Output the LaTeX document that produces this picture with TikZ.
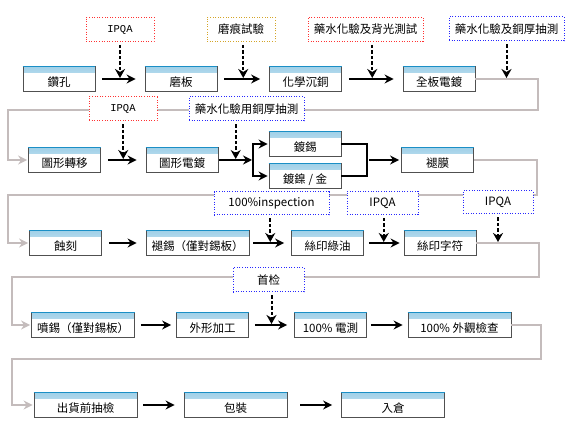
\documentclass[tikz,border=0pt]{standalone}
\usepackage{fontspec}
\setmainfont{Noto Sans CJK TC}
\newfontfamily\monofont{Liberation Mono}
\usetikzlibrary{arrows.meta}
\definecolor{stripblue}{RGB}{160,208,232}
\definecolor{stripedge}{RGB}{27,143,198}
\definecolor{boxgray}{RGB}{80,80,80}
\definecolor{linegray}{RGB}{196,188,188}
\definecolor{qared}{RGB}{255,50,50}
\definecolor{qagold}{RGB}{212,165,40}
\definecolor{qablue}{RGB}{40,40,255}

\begin{document}
\begin{tikzpicture}[x=1pt,y=-1pt,
	stage/.style={draw=boxgray, line width=0.8pt, fill=white, minimum width=72pt, minimum height=25pt,
		inner sep=0pt, font=\fontsize{11.5}{12}\selectfont, text height=15pt, text depth=0.3pt,
		path picture={\fill[top color=stripblue, bottom color=stripblue!35]
			(path picture bounding box.north west) rectangle ([yshift=-6pt]path picture bounding box.north east);}},
	wide/.style={stage, minimum width=103pt},
	check/.style={draw=#1, dash pattern=on 1pt off 1.6pt, line width=1pt, fill=white,
		minimum height=24pt, inner sep=0pt, font=\fontsize{11.5}{12}\selectfont},
	flow/.style={-{Stealth[length=9pt,width=9pt]}, line width=2pt, shorten <=7pt, shorten >=9pt},
	qaflow/.style={-{Stealth[length=9pt,width=10pt]}, line width=2pt, dash pattern=on 3.5pt off 2pt,
		shorten <=3pt, shorten >=1pt},
	back/.style={draw=linegray, line width=1.4pt, -{Stealth[length=9pt,width=9pt]}, shorten >=1pt}]
	\useasboundingbox (0,0) rectangle (570,435);

	% Row 1
	\node[stage] (drill) at (59,79) {鑽孔};
	\node[stage] (grind) at (181,79) {磨板};
	\node[stage] (pth) at (305.5,79) {化學沉銅};
	\node[stage] (panel) at (439,79) {全板電鍍};

	% Row 2
	\node[stage] (xfer) at (64.5,160) {圖形轉移};
	\node[stage] (pplate) at (182,160) {圖形電鍍};
	\node[stage] (tin) at (305,144) {鍍錫};
	\node[stage] (nigold) at (305,176) {鍍鎳 / 金};
	\node[stage] (strip) at (437.5,160) {褪膜};
	\coordinate (split) at (253,160);
	\coordinate (join) at (367,160);

	% Row 3
	\node[stage] (etch) at (65.5,243) {蝕刻};
	\node[wide] (detin) at (197.5,243) {褪錫（僅對錫板）};
	\node[stage] (mask) at (327.5,243) {絲印綠油};
	\node[stage] (legend) at (440,243) {絲印字符};

	% Row 4
	\node[wide] (spray) at (83,325) {噴錫（僅對錫板）};
	\node[stage] (route) at (212.5,325) {外形加工};
	\node[stage] (et) at (330.5,325) {100\% 電測};
	\node[wide] (fqc) at (459.5,325) {100\% 外觀檢查};

	% Row 5
	\node[wide] (oqc) at (85.5,405) {出貨前抽檢};
	\node[wide] (pack) at (235.5,405) {包裝};
	\node[wide] (store) at (393,405) {入倉};

	\foreach \n in {drill,grind,pth,panel,xfer,pplate,tin,nigold,strip,etch,detin,mask,legend,spray,route,et,fqc,oqc,pack,store}
		\draw[stripedge, line width=0.8pt] (\n.north west) -- (\n.north east);

	% Return lines
	\draw[back] (panel.east) -| (538,110) -- (8,110) |- (xfer.west);
	\draw[back] (strip.east) -| (537,195) -- (8,195) |- (etch.west);
	\draw[back] (legend.east) -| (539,277) -- (12,277) |- (spray.west);
	\draw[back] (fqc.east) -| (541,359) -- (12,359) |- (oqc.west);

	% Checks
	\node[check=qared, minimum width=68pt] (q1) at (120,29.5) {\monofont\fontsize{10.5}{10}\selectfont IPQA};
	\node[check=qagold, minimum width=68pt] (q2) at (241,29.5) {磨痕試驗};
	\node[check=qared, minimum width=115pt] (q3) at (365.5,29.5) {藥水化驗及背光測試};
	\node[check=qablue, minimum width=115pt] (q4) at (506.5,29) {藥水化驗及銅厚抽測};
	\node[check=qared, minimum width=68pt] (q5) at (123,109) {\monofont\fontsize{10.5}{10}\selectfont IPQA};
	\node[check=qablue, minimum width=115pt] (q6) at (246.5,109) {藥水化驗用銅厚抽測};
	\node[check=qablue, minimum width=115pt, minimum height=23pt] (q7) at (271.5,203.5) {100\%inspection};
	\node[check=qablue, minimum width=71pt, minimum height=23pt] (q8) at (382.5,203) {IPQA};
	\node[check=qablue, minimum width=70pt, minimum height=23pt] (q9) at (498,202.5) {IPQA};
	\node[check=qablue, minimum width=71pt] (q10) at (268.5,280) {首检};

	% Main flow
	\draw[flow] (drill) -- coordinate (m1) (grind);
	\draw[flow] (grind) -- coordinate (m2) (pth);
	\draw[flow] (pth) -- coordinate (m3) (panel);
	\draw[flow] (xfer) -- coordinate (m5) (pplate);
	\draw[flow, shorten <=1pt, shorten >=1pt] (pplate) -- coordinate (m6) (split);
	\draw[flow, shorten <=0pt, shorten >=1pt] (split |- nigold) -- (split |- tin) -- (tin);
	\draw[flow, shorten <=0pt, shorten >=1pt] (split |- tin) -- (split |- nigold) -- (nigold);
	\draw[line width=2pt] (tin) -| (join) |- (nigold);
	\draw[flow, shorten <=2pt, shorten >=2pt] (join) -- (strip);
	\draw[flow] (etch) -- coordinate (m7) (detin);
	\draw[flow, shorten <=4pt, shorten >=7pt] (detin) -- coordinate (m8) (mask);
	\draw[flow, shorten <=5pt, shorten >=4pt] (mask) -- coordinate (m9) (legend);
	\draw[flow, shorten <=6pt, shorten >=5pt] (spray) -- (route);
	\draw[flow, shorten <=6pt, shorten >=7pt] (route) -- coordinate (m10) (et);
	\draw[flow, shorten <=4pt, shorten >=5pt] (et) -- (fqc);
	\draw[flow, shorten <=6pt, shorten >=9pt] (oqc) -- (pack);
	\draw[flow, shorten <=13pt, shorten >=9pt] (pack) -- (store);

	% Check arrows
	\draw[qaflow] (m1 |- q1.south) -- (m1);
	\draw[qaflow] (m2 |- q2.south) -- (m2);
	\draw[qaflow] (m3 |- q3.south) -- (m3);
	\draw[qaflow] (q4.south) -- (q4.south |- panel.east);
	\draw[qaflow] (m5 |- q5.south) -- (m5);
	\draw[qaflow] (m6 |- q6.south) -- (m6);
	\draw[qaflow] (m8 |- q7.south) -- (m8);
	\draw[qaflow] (m9 |- q8.south) -- (m9);
	\draw[qaflow] (q9.south) -- (q9.south |- legend.east);
	\draw[qaflow] (m10 |- q10.south) -- (m10);
\end{tikzpicture}
\end{document}
